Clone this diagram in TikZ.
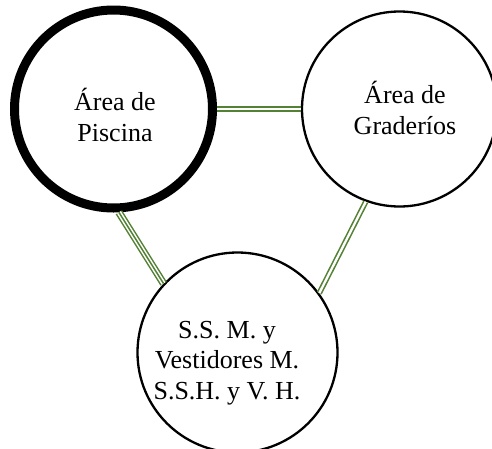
\documentclass[tikz,border=0pt]{standalone}
\usepackage{fontspec}
\setmainfont{Liberation Serif}
\definecolor{linkgreen}{RGB}{84,130,53}
\begin{document}
\begin{tikzpicture}[x=1pt,y=-1pt,
  zone/.style={circle,draw=black,fill=none,inner sep=0pt,minimum size=#1},
  lbl/.style={align=center,inner sep=0pt,font=\fontsize{26}{30.5}\selectfont},
  dbl/.style={draw=linkgreen,line width=1.6pt,double=white,double distance=2.3pt},
  tpl/.style={draw=linkgreen,line width=1.5pt,double=white,double distance=4.5pt},
  mid/.style={draw=linkgreen,line width=1.5pt}]
\useasboundingbox (0,0) rectangle (492,448);
\node[zone=198pt,line width=9pt] (pis) at (113.5,109) {};
\node[zone=195pt,line width=2.3pt] (gra) at (399.5,109) {};
\node[zone=200pt,line width=2.3pt] (ssm) at (237.5,352.5) {};
\node[lbl] (tpis) at (115,115) {Área de\\Piscina};
\node[lbl] (tgra) at (405,108) {Área de\\Graderíos};
\node[lbl] (tssm) at (227,363) {S.S. M. y\\Vestidores M.\\S.S.H. y V. H.};
\draw[dbl] (pis.0) -- (gra.180);
\draw[tpl] (pis.-87) -- (ssm.137);
\draw[mid] (pis.-87) -- (ssm.137);
\draw[dbl] (gra.-110) -- (ssm.36);
\end{tikzpicture}
\end{document}
